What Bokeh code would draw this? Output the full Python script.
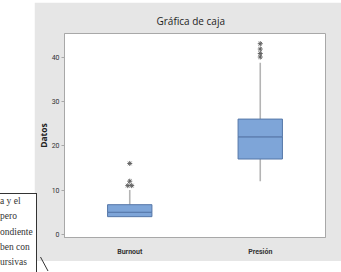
from bokeh.plotting import figure
from bokeh.models import Range1d, ColumnDataSource, FixedTicker, Div
from bokeh.layouts import row
from bokeh.embed import file_html
from bokeh.resources import INLINE

# ---- data ----
categories = ["Burnout", "Presión"]
q1 = [4.0, 17.0]
median = [5.0, 22.0]
q3 = [6.7, 26.0]
whisker_low = [4.0, 12.0]
whisker_high = [10.0, 38.7]
outlier_cat = ["Burnout", "Burnout", "Burnout", "Burnout",
               "Presión", "Presión", "Presión", "Presión"]
outlier_val = [11.0, 11.0, 12.0, 16.0, 40.0, 40.8, 41.8, 43.0]
y_ticks = [0, 10, 20, 30, 40]
title_text = "Gráfica de caja"
y_label = "Datos"
note_lines = ["a y el", "pero", "ondiente", "ben con", "ursivas"]

p = figure(width=307, height=259, x_range=categories, y_range=Range1d(-0.7, 45.3),
           output_backend="svg", toolbar_location=None,
           min_border_left=30, min_border_right=16, min_border_top=31,
           min_border_bottom=24, title=title_text)
p.margin = (2, 0, 11, 0)
p.border_fill_color = "#e6e6e6"
p.background_fill_color = "white"
p.outline_line_color = "#a8a8a8"
p.grid.visible = False

p.title.align = "left"
p.title.offset = 92
p.title.text_font = "Open Sans"
p.title.text_font_size = "10px"
p.title.text_font_style = "normal"
p.title.text_color = "#1e1e1e"
p.title.standoff = 11

src = ColumnDataSource(dict(cat=categories, q1=q1, med=median, q3=q3,
                            lo=whisker_low, hi=whisker_high))
p.segment(x0="cat", y0="q3", x1="cat", y1="hi", source=src,
          line_color="#b4b4b4", line_width=1.6)
p.segment(x0="cat", y0="lo", x1="cat", y1="q1", source=src,
          line_color="#b4b4b4", line_width=1.6)
p.vbar(x="cat", width=0.34, bottom="q1", top="med", source=src,
       fill_color="#7ea5d8", line_color="#5577a8", line_width=1)
p.vbar(x="cat", width=0.34, bottom="med", top="q3", source=src,
       fill_color="#7ea5d8", line_color="#5577a8", line_width=1)

# outliers (duplicates spread side by side)
ox = []
seen = {}
for c, v in zip(outlier_cat, outlier_val):
    n = sum(1 for cc, vv in zip(outlier_cat, outlier_val) if cc == c and vv == v)
    k = seen.get((c, v), 0)
    seen[(c, v)] = k + 1
    ox.append((c, (k - (n - 1) / 2) * 0.03))
p.scatter(x=ox, y=outlier_val, marker="asterisk", size=5,
          line_color="#606060", line_width=1)

# axes
p.yaxis.ticker = FixedTicker(ticks=y_ticks)
p.yaxis.axis_label = y_label
p.yaxis.axis_label_text_font = "Open Sans"
p.yaxis.axis_label_text_font_size = "8.5px"
p.yaxis.axis_label_text_font_style = "bold"
p.yaxis.axis_label_text_color = "#222222"
p.yaxis.axis_label_standoff = 0
p.yaxis.major_label_text_font = "Roboto"
p.yaxis.major_label_text_font_size = "7px"
p.yaxis.major_label_text_color = "#333333"
p.yaxis.major_label_standoff = 2
p.yaxis.major_tick_out = 3
p.yaxis.major_tick_in = 0
p.yaxis.minor_tick_line_color = None
p.yaxis.major_tick_line_color = "#a8a8a8"
p.yaxis.axis_line_color = "#a8a8a8"

p.xaxis.major_label_text_font = "Roboto"
p.xaxis.major_label_text_font_size = "7px"
p.xaxis.major_label_text_font_style = "bold"
p.xaxis.major_label_text_color = "#333333"
p.xaxis.major_label_standoff = 4
p.xaxis.major_tick_line_color = None
p.xaxis.axis_line_color = "#a8a8a8"

# note box at the left (part of the surrounding document)
lines_html = "".join(
    f'<div style="position:absolute;left:0px;top:{196 + i * 15.3:.1f}px;'
    f'font-family:\'Liberation Serif\';font-size:9.5px;color:#333;'
    f'white-space:nowrap;line-height:11px;">{t}</div>'
    for i, t in enumerate(note_lines))
note_html = (
    '<div style="position:relative;width:34px;height:272px;overflow:visible;">'
    '<div style="position:absolute;left:-3px;top:193px;width:40px;height:90px;'
    'border:1.3px solid #333;background:white;"></div>'
    + lines_html +
    '<svg style="position:absolute;left:0;top:0;overflow:visible;" width="60" height="272">'
    '<line x1="40.5" y1="257" x2="48" y2="271" stroke="#333" stroke-width="1"/></svg>'
    '</div>')
note = Div(text=note_html, width=34, height=272,
           styles={"overflow": "visible", "z-index": "10", "margin": "0"})
note.margin = (0, 0, 0, 0)

layout = row(note, p)
layout.spacing = 0
layout.margin = (0, 0, 0, 0)

open("out.html", "w").write(file_html(layout, INLINE))
